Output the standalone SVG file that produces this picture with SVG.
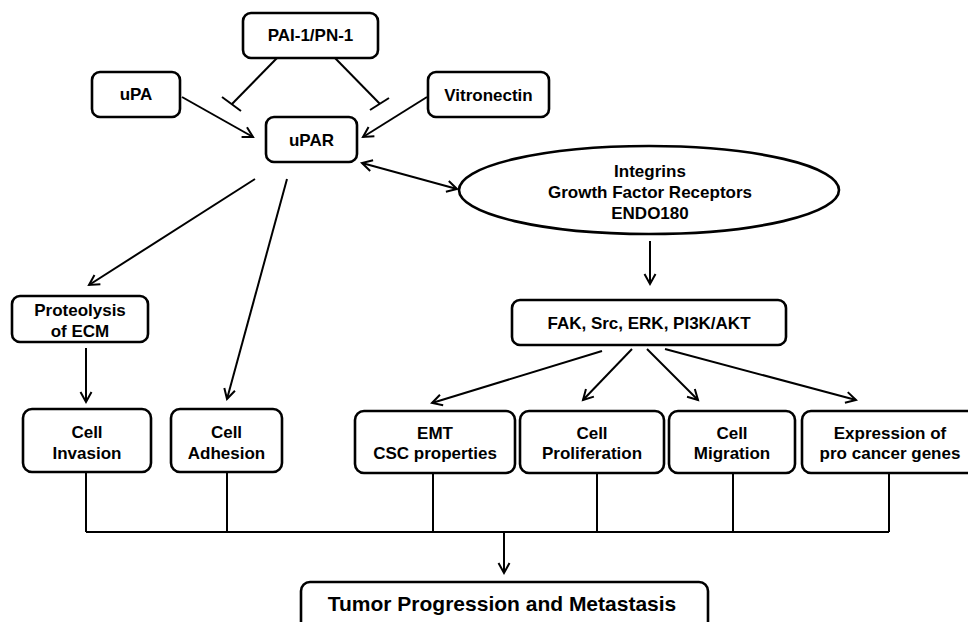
<svg xmlns="http://www.w3.org/2000/svg" width="968" height="622" viewBox="0 0 968 622">
<style>
.box{fill:#fff;stroke:#000;stroke-width:2.6}
.t{font-family:"Liberation Sans",Arial,sans-serif;font-weight:bold;font-size:17px;fill:#000;text-anchor:middle}
.big{font-size:21px}
.c{stroke:#000;stroke-width:2;fill:none}
.a{marker-end:url(#ah)}
</style>
<defs>
<marker id="ah" markerUnits="userSpaceOnUse" markerWidth="14" markerHeight="14" refX="11" refY="7" orient="auto-start-reverse" viewBox="0 0 14 14">
<path d="M1,1.5 L11,7 L1,12.5" fill="none" stroke="#000" stroke-width="2"/>
</marker>
</defs>
<rect width="968" height="622" fill="#fff"/>
<g id="connectors">
<line class="c" x1="277" y1="58" x2="232" y2="104"/>
<line class="c" x1="222" y1="97" x2="241" y2="111"/>
<line class="c" x1="335" y1="58" x2="380" y2="104"/>
<line class="c" x1="370" y1="110" x2="389" y2="98"/>
<line class="c a" x1="182" y1="97" x2="253" y2="137"/>
<line class="c a" x1="427" y1="97" x2="363" y2="137"/>
<line class="c a" x1="362" y1="163" x2="457" y2="189" marker-start="url(#ah)"/>
<line class="c a" x1="255" y1="179" x2="89" y2="285"/>
<line class="c a" x1="287" y1="179" x2="227" y2="399"/>
<line class="c a" x1="86" y1="348" x2="86" y2="402"/>
<line class="c a" x1="650" y1="241" x2="650" y2="284"/>
<line class="c a" x1="602" y1="351" x2="432" y2="403"/>
<line class="c a" x1="632" y1="349" x2="583" y2="400"/>
<line class="c a" x1="647" y1="349" x2="698" y2="400"/>
<line class="c a" x1="665" y1="349" x2="856" y2="400"/>
<path class="c" d="M86,472 V532 M227,472 V532 M433,473 V532 M597,473 V532 M733,473 V532 M889,472 V532 M86,532 H889"/>
<line class="c a" x1="504" y1="532" x2="504" y2="573"/>
</g>
<g id="pai1"><rect class="box" x="243" y="13" width="135" height="45" rx="8"/><text class="t" x="310.5" y="41">PAI-1/PN-1</text></g>
<g id="upa"><rect class="box" x="92" y="72" width="88" height="45" rx="8"/><text class="t" x="136" y="100">uPA</text></g>
<g id="upar"><rect class="box" x="266" y="117" width="91" height="45" rx="8"/><text class="t" x="311.5" y="146">uPAR</text></g>
<g id="vitronectin"><rect class="box" x="428" y="72" width="121" height="45" rx="8"/><text class="t" x="488.5" y="101">Vitronectin</text></g>
<g id="receptors"><ellipse class="box" cx="649" cy="190" rx="190" ry="44"/>
<text class="t" x="650" y="177">Integrins</text>
<text class="t" x="650" y="198">Growth Factor Receptors</text>
<text class="t" x="650" y="219">ENDO180</text></g>
<g id="fak"><rect class="box" x="512" y="300" width="274" height="45" rx="8"/><text class="t" x="649" y="329">FAK, Src, ERK, PI3K/AKT</text></g>
<g id="proteolysis"><rect class="box" x="12" y="296" width="136" height="46" rx="8"/><text class="t" x="80" y="316">Proteolysis</text><text class="t" x="80" y="337">of ECM</text></g>
<g id="invasion"><rect class="box" x="23" y="409" width="128" height="63" rx="9"/><text class="t" x="87" y="438">Cell</text><text class="t" x="87" y="459">Invasion</text></g>
<g id="adhesion"><rect class="box" x="171" y="409" width="111" height="63" rx="9"/><text class="t" x="226.5" y="438">Cell</text><text class="t" x="226.5" y="459">Adhesion</text></g>
<g id="emt"><rect class="box" x="355" y="411" width="160" height="62" rx="9"/><text class="t" x="435" y="439">EMT</text><text class="t" x="435" y="459">CSC properties</text></g>
<g id="proliferation"><rect class="box" x="520" y="411" width="144" height="62" rx="9"/><text class="t" x="592" y="439">Cell</text><text class="t" x="592" y="459">Proliferation</text></g>
<g id="migration"><rect class="box" x="669" y="411" width="126" height="62" rx="9"/><text class="t" x="732" y="439">Cell</text><text class="t" x="732" y="459">Migration</text></g>
<g id="expression"><rect class="box" x="802" y="411" width="176" height="62" rx="9"/><text class="t" x="890" y="439">Expression of</text><text class="t" x="890" y="459">pro cancer genes</text></g>
<g id="tumor"><rect class="box" x="301" y="582" width="407" height="50" rx="9"/><text class="t big" x="502" y="611">Tumor Progression and Metastasis</text></g>
</svg>
